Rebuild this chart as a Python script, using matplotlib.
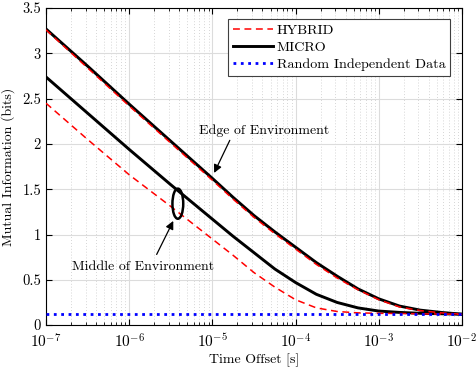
import numpy as np
import matplotlib
matplotlib.use("Agg")
import matplotlib.pyplot as plt
from matplotlib.patches import Ellipse
from matplotlib.ticker import LogLocator, NullFormatter

plt.rcParams['font.family'] = 'serif'
plt.rcParams['font.serif'] = ['cmr10', 'DejaVu Serif']
plt.rcParams['mathtext.fontset'] = 'cm'
plt.rcParams['axes.formatter.use_mathtext'] = True

# time offsets (log10 seconds)
log_t = [-7, -6.5, -6, -5.5, -5, -4.75, -4.5, -4.25, -4, -3.75, -3.5,
         -3.25, -3, -2.75, -2.5, -2.25, -2]

micro_edge = [3.27, 2.86, 2.44, 2.03, 1.62, 1.41, 1.21, 1.03, 0.86, 0.69, 0.54,
              0.40, 0.29, 0.21, 0.165, 0.14, 0.12]
hybrid_edge = [3.26, 2.84, 2.42, 2.01, 1.60, 1.39, 1.19, 1.01, 0.84, 0.67, 0.52,
               0.39, 0.28, 0.20, 0.16, 0.135, 0.12]
micro_mid = [2.74, 2.34, 1.94, 1.55, 1.17, 0.98, 0.80, 0.62, 0.47, 0.34, 0.25,
             0.19, 0.155, 0.14, 0.13, 0.125, 0.12]
hybrid_mid = [2.45, 2.05, 1.66, 1.31, 0.95, 0.77, 0.58, 0.42, 0.28, 0.19, 0.15,
              0.135, 0.13, 0.128, 0.125, 0.122, 0.12]
random_level = 0.125

t = 10.0 ** np.array(log_t)

fig = plt.figure(figsize=(4.77, 3.69), dpi=100)
ax = fig.add_axes([0.0964, 0.119, 0.872, 0.859])

dash = (4.5, 3.0)
ax.plot(t, hybrid_edge, '--', dashes=dash, color='red', lw=1.1, label='HYBRID', zorder=3)
ax.plot(t, micro_edge, '-', color='black', lw=2.1, label='MICRO', zorder=2)
ax.plot(t, [random_level] * len(t), ':', color='blue', lw=2.0,
        label='Random Independent Data', zorder=4)
ax.plot(t, micro_mid, '-', color='black', lw=2.1, zorder=2)
ax.plot(t, hybrid_mid, '--', dashes=dash, color='red', lw=1.1, zorder=3)

ax.set_xscale('log')
ax.set_xlim(1e-7, 1e-2)
ax.set_ylim(0, 3.5)
ax.set_yticks(np.arange(0, 3.51, 0.5))
ax.set_yticklabels(['0', '0.5', '1', '1.5', '2', '2.5', '3', '3.5'])
ax.xaxis.set_minor_locator(LogLocator(base=10, subs=np.arange(2, 10), numticks=20))
ax.xaxis.set_minor_formatter(NullFormatter())

ax.grid(True, which='major', color='#dcdcdc', lw=0.8)
ax.grid(True, which='minor', axis='x', color='#c8c8c8', lw=0.6, ls=(0, (1, 2.5)))
ax.set_axisbelow(True)
ax.tick_params(which='both', direction='in', top=True, right=True)
ax.tick_params(axis='x', labelsize=11, pad=5)
ax.tick_params(axis='y', labelsize=10.5)
ax.tick_params(which='major', length=4)
ax.tick_params(which='minor', length=2)
for s in ax.spines.values():
    s.set_linewidth(0.8)

ax.set_xlabel('Time Offset [s]', fontsize=10, labelpad=2)
ax.set_ylabel('Mutual Information (bits)', fontsize=10, labelpad=5)

leg = ax.legend(loc='upper right', fontsize=10.2, handlelength=2.8, handletextpad=0.25,
                borderpad=0.35, labelspacing=0.3, borderaxespad=0, fancybox=False,
                framealpha=1, edgecolor='#404040', bbox_to_anchor=(0.972, 0.966))
leg.get_frame().set_linewidth(0.8)

ax.text(4.2e-5, 2.15, 'Edge of Environment', ha='center', va='center', fontsize=10)
ax.annotate('', xy=(1.05e-5, 1.68), xytext=(1.62e-5, 2.04),
            arrowprops=dict(arrowstyle='-|>', color='black', lw=0.9,
                            shrinkA=0, shrinkB=0, mutation_scale=12))

# ellipse drawn in axes fraction so it is not distorted by the log axis
ax.add_patch(Ellipse((0.317, 0.383), width=0.026, height=0.095, fill=False,
                     ec='black', lw=1.8, zorder=5, transform=ax.transAxes))

ax.text(1.45e-6, 0.64, 'Middle of Environment', ha='center', va='center', fontsize=10)
ax.annotate('', xy=(3.39e-6, 1.15), xytext=(2.14e-6, 0.78),
            arrowprops=dict(arrowstyle='-|>', color='black', lw=0.9,
                            shrinkA=0, shrinkB=0, mutation_scale=12))

fig.savefig('out.png', dpi=100)
